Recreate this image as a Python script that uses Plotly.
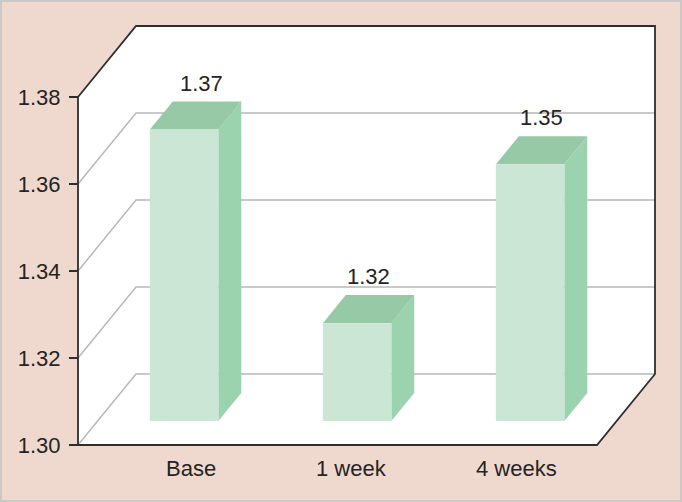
import plotly.graph_objects as go

# ---- data ----
categories = ["Base", "1 week", "4 weeks"]
values = [1.367, 1.3225, 1.359]          # bar heights
value_labels = ["1.37", "1.32", "1.35"]  # data labels as printed
tick_vals = [1.30, 1.32, 1.34, 1.36, 1.38]
tick_text = ["1.30", "1.32", "1.34", "1.36", "1.38"]

# ---- styling / projection ----
PINK = "#EFD9CE"
FRONT = "#CCE6D6"
SIDE = "#9BD3AF"
TOP = "#97C9A7"
GRID = "#B8B8B8"
AXIS = "#2E2E2E"
TEXT = "#242424"
FONT = "Liberation Sans, Arial, sans-serif"
FS = 22

W, H = 682, 502
PX_X = 173.0      # px per category unit
PX_Y = 4350.0     # px per value unit
PAD = 6
ymin, ymax = tick_vals[0], tick_vals[-1]
DX = 58 / PX_X    # oblique depth in x units
DY = 71 / PX_Y    # oblique depth in y units
F1, F2 = 0.338, 0.733   # bar front / back depth fraction
BW = 68.5 / PX_X        # bar width

x_lo, x_hi = -0.5, len(categories) - 0.5
xr = [x_lo - PAD / PX_X, x_hi + DX + PAD / PX_X]
yr = [ymin - PAD / PX_Y, ymax + DY + PAD / PX_Y]
plot_w = (xr[1] - xr[0]) * PX_X
plot_h = (yr[1] - yr[0]) * PX_Y
m_l = 78 - PAD
m_t = 26 - PAD
m_r = W - m_l - plot_w
m_b = H - m_t - plot_h

fig = go.Figure()

# white chart box (walls + floor)
box_x = [x_lo, x_lo + DX, x_hi + DX, x_hi + DX, x_hi, x_lo, x_lo]
box_y = [ymax, ymax + DY, ymax + DY, ymin + DY, ymin, ymin, ymax]
fig.add_trace(go.Scatter(x=box_x, y=box_y, mode="lines", fill="toself",
                         fillcolor="white", line=dict(width=0), hoverinfo="skip"))

# gridlines: diagonal on side wall + horizontal on back wall
for v in tick_vals[:-1]:
    fig.add_trace(go.Scatter(x=[x_lo, x_lo + DX, x_hi + DX],
                             y=[v, v + DY, v + DY], mode="lines",
                             line=dict(color=GRID, width=1.5), hoverinfo="skip"))

# border
fig.add_trace(go.Scatter(x=box_x, y=box_y, mode="lines",
                         line=dict(color=AXIS, width=1.8), hoverinfo="skip"))

# 3D bars
for i, v in enumerate(values):
    c = i + F1 * DX
    xl, xrr = c - BW / 2, c + BW / 2
    ddx = (F2 - F1) * DX
    yb1, yb2 = ymin + F1 * DY, ymin + F2 * DY
    yt1, yt2 = v + F1 * DY, v + F2 * DY
    # side
    fig.add_trace(go.Scatter(x=[xrr, xrr + ddx, xrr + ddx, xrr, xrr],
                             y=[yb1, yb2, yt2, yt1, yb1], mode="lines", fill="toself",
                             fillcolor=SIDE, line=dict(width=0), hoverinfo="skip"))
    # top
    fig.add_trace(go.Scatter(x=[xl, xrr, xrr + ddx, xl + ddx, xl],
                             y=[yt1, yt1, yt2, yt2, yt1], mode="lines", fill="toself",
                             fillcolor=TOP, line=dict(width=0), hoverinfo="skip"))
    # front
    fig.add_trace(go.Scatter(x=[xl, xrr, xrr, xl, xl],
                             y=[yb1, yb1, yt1, yt1, yb1], mode="lines", fill="toself",
                             fillcolor=FRONT, line=dict(width=0), hoverinfo="skip"))
    # value label
    fig.add_annotation(x=c + ddx / 2, y=yt2, text=value_labels[i], showarrow=False,
                       xref="x", yref="y", yanchor="bottom", yshift=4,
                       xshift=6 if i == 0 else 0,
                       font=dict(size=FS, color=TEXT, family=FONT))

# category labels
cat_shift = [26, 13.5, 6]
for i, cat in enumerate(categories):
    fig.add_annotation(x=i, y=ymin, text=cat, showarrow=False, xref="x", yref="y",
                       yanchor="top", yshift=-9, xshift=cat_shift[i],
                       font=dict(size=FS, color=TEXT, family=FONT))

# outer gray frame
fig.add_shape(type="rect", xref="paper", yref="paper",
              x0=(1 - m_l) / plot_w, x1=(681 - m_l) / plot_w,
              y0=1 - (501 - m_t) / plot_h, y1=1 - (1 - m_t) / plot_h,
              line=dict(color="#C9C9C9", width=2), fillcolor="rgba(0,0,0,0)")

fig.update_layout(
    width=W, height=H, showlegend=False,
    paper_bgcolor=PINK, plot_bgcolor="rgba(0,0,0,0)",
    margin=dict(l=m_l, r=m_r, t=m_t, b=m_b, pad=0),
    xaxis=dict(range=xr, showgrid=False, zeroline=False, showline=False,
               showticklabels=False, ticks="", fixedrange=True),
    yaxis=dict(range=yr, showgrid=False, zeroline=False, showline=False,
               tickvals=tick_vals, ticktext=tick_text, ticks="outside",
               ticklen=9, tickwidth=1.8, tickcolor=AXIS,
               anchor="free", position=PAD / plot_w,
               ticklabelstandoff=4,
               tickfont=dict(size=FS, color=TEXT, family=FONT), fixedrange=True),
)

fig.write_html("out.html", config={"displayModeBar": False},
               post_script="document.body.style.margin='0';")
